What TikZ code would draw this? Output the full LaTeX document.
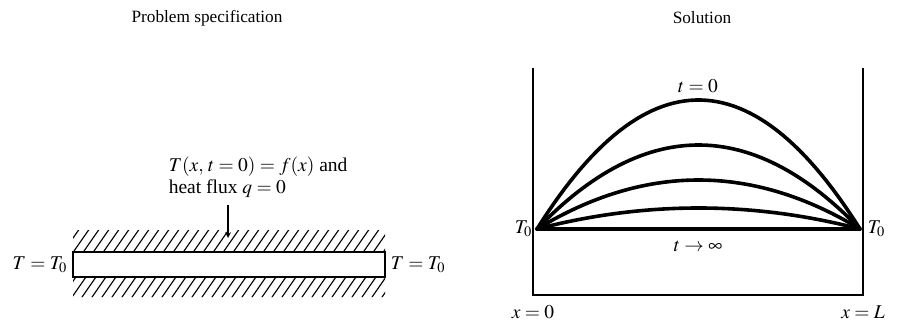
\documentclass[tikz,border=0pt]{standalone}
\usepackage{mathptmx}
\usepackage{fontspec}
\setmainfont{Liberation Serif}
\usetikzlibrary{arrows,positioning,calc}

\begin{document}
\begin{tikzpicture}[x=0.6667pt, y=-0.6667pt,
  title/.style={font=\fontsize{11.5}{13.5}\selectfont},
  lbl/.style={font=\fontsize{13}{14.5}\selectfont, inner sep=1pt},
  hatch/.style={line width=0.75pt},
  curve/.style={line width=2.4pt, line join=round, line cap=round},
  wall/.style={line width=0.9pt},
  edge/.style={->, >=stealth, line width=0.7pt}
]
\useasboundingbox (0,0) rectangle (900,321);

% problem specification
\node[title] (spec) at (207,18) {Problem specification};

\begin{scope}
  \clip (73,230) rectangle (385,252) (73,277) rectangle (385,297);
  \foreach \i in {0,...,36}
    \draw[hatch] (30+10*\i,300) -- ++(50,-72);
\end{scope}
\node[draw, line width=1.4pt, fill=white, minimum width=208pt, minimum height=16.7pt, inner sep=0pt] (bar) at (229,264.5) {};

\node[lbl, align=left, anchor=north west] (ic) at (167,155)
  {$T(x,\,t=0)=f(x)$ and\\heat flux $q=0$};
\coordinate (arrtail) at (228,205);
\coordinate (arrtip) at (228,238);
\draw[edge] (arrtail) -- (arrtip);

\node[lbl, left=2pt of bar] (tl) {$T=T_0$};
\node[lbl, right=2pt of bar] (tr) {$T=T_0$};

% solution
\node[title] (sol) at (702,18) {Solution};
\coordinate (wl) at (533,68);
\coordinate (wr) at (863,68);
\coordinate (bl) at (533,295);
\coordinate (br) at (863,295);
\draw[wall] (wl) -- (bl) -- (br) -- (wr);

\coordinate (x0) at (537,229);
\coordinate (xL) at (860,229);
\draw[curve] (x0) -- (xL);
\foreach \h in {129,84,49,21}
  \draw[curve] plot[domain=0:1, samples=60] ({537+323*\x},{229-4*\h*\x*(1-\x)});

\node[lbl] (t0) at (698,86) {$t=0$};
\node[lbl] (tinf) at (698,246) {$t\rightarrow\infty$};
\node[lbl, left=2pt of x0] (T0l) {$T_0$};
\node[lbl, right=4pt of xL] (T0r) {$T_0$};
\node[lbl, below=6pt of bl] (xa) {$x=0$};
\node[lbl, below=6pt of br] (xb) {$x=L$};

\end{tikzpicture}
\end{document}
